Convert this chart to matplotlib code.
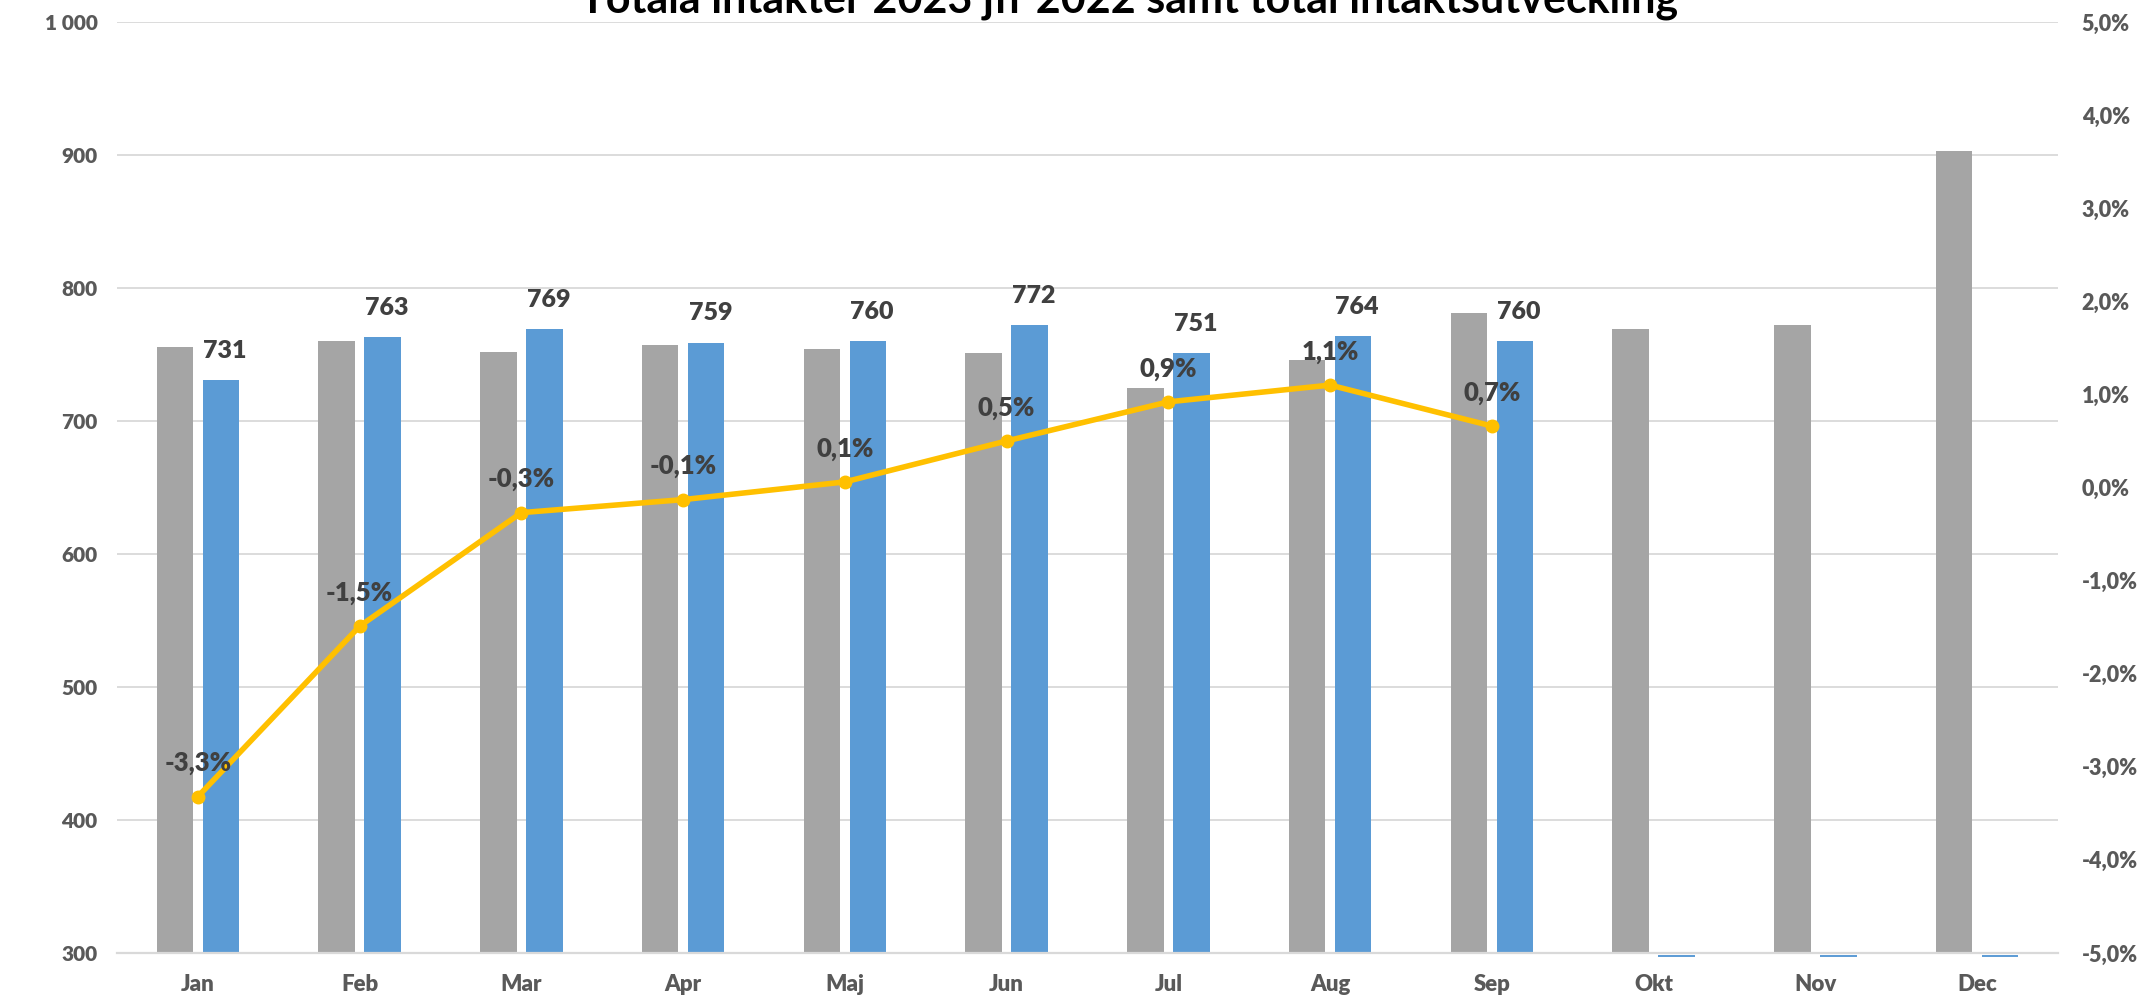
import matplotlib
matplotlib.use("Agg")
import matplotlib.pyplot as plt
from matplotlib import font_manager as fm
import numpy as np
from matplotlib.ticker import FuncFormatter, MultipleLocator

# ---- data ----
months = ["Jan", "Feb", "Mar", "Apr", "Maj", "Jun", "Jul", "Aug", "Sep", "Okt", "Nov", "Dec"]
income_2022 = [756, 760, 752, 757, 754, 751, 725, 746, 781, 769, 772, 903]
income_2023 = [731, 763, 769, 759, 760, 772, 751, 764, 760, np.nan, np.nan, np.nan]
growth_pct = [-3.32, -1.49, -0.27, -0.13, 0.06, 0.50, 0.92, 1.10, 0.66]
title = "Totala intäkter 2023 jfr 2022 samt total intäktsutveckling"

# pick a family that really has a bold face installed
def bold_family(prefs):
    for fam in prefs:
        for f in fm.fontManager.ttflist:
            w = f.weight if isinstance(f.weight, int) else 400
            if f.name == fam and (w >= 600 or str(f.weight) == "bold") and f.style == "normal":
                return fam
    return "DejaVu Sans"

FONT = bold_family(["Lato", "Open Sans", "Noto Sans", "Roboto", "Liberation Sans", "DejaVu Sans"])
WEIGHT = "heavy"

GRAY = "#A5A5A5"
BLUE = "#5B9BD5"
GOLD = "#FFC000"
GRID = "#D9D9D9"
TICK = "#595959"
LABEL = "#404040"

W, H = 2146, 1000
fig = plt.figure(figsize=(W / 100, H / 100), dpi=100)
left, right, top, bottom = 117, 2058, 22, 953
ax = fig.add_axes([left / W, 1 - bottom / H, (right - left) / W, (bottom - top) / H])

x = np.arange(len(months))
bw = 0.225
off = 0.142

ax.bar(x - off, income_2022, width=bw, color=GRAY, zorder=2)
ax.bar(x + off, income_2023, width=bw, color=BLUE, zorder=2)

ax.set_ylim(300, 1000)
ax.set_xlim(-0.5, len(months) - 0.5)
ax.yaxis.set_major_locator(MultipleLocator(100))
ax.yaxis.set_major_formatter(FuncFormatter(lambda v, p: f"{int(v):,}".replace(",", " ")))
ax.set_xticks(x)
ax.set_xticklabels(months)
ax.grid(axis="y", color=GRID, lw=1.3, zorder=0)
ax.set_axisbelow(True)
for s in ["top", "left", "right"]:
    ax.spines[s].set_visible(False)
ax.spines["bottom"].set_color(GRID)
ax.spines["bottom"].set_linewidth(1.6)
ax.tick_params(axis="y", length=0, colors=TICK, labelsize=15, pad=14)
ax.tick_params(axis="x", length=0, colors=TICK, labelsize=16, pad=15)
for lab in ax.get_xticklabels() + ax.get_yticklabels():
    lab.set_fontfamily(FONT)
    lab.set_fontweight(WEIGHT)

# missing 2023 months: thin blue stub at the baseline
base = ax.get_ylim()[0]
for xi, v in zip(x, income_2023):
    if np.isnan(v):
        ax.hlines(base - 2.2, xi + off - bw / 2, xi + off + bw / 2, color=BLUE,
                  lw=1.4, clip_on=False, zorder=3)

# value labels for 2023 bars
for xi, v in zip(x, income_2023):
    if not np.isnan(v):
        ax.annotate(f"{int(v)}", (xi + off, v), xytext=(3, 13), textcoords="offset points",
                    ha="center", va="bottom", fontsize=18, fontweight=WEIGHT,
                    fontfamily=FONT, color=LABEL, zorder=5)

# growth line on secondary axis
ax2 = ax.twinx()
ax2.set_ylim(-5, 5)
ax2.yaxis.set_major_locator(MultipleLocator(1))
ax2.yaxis.set_major_formatter(FuncFormatter(lambda v, p: f"{v:.1f}%".replace(".", ",")))
for s in ax2.spines.values():
    s.set_visible(False)
ax2.tick_params(axis="y", length=0, colors=TICK, labelsize=15.5, pad=17)
for lab in ax2.get_yticklabels():
    lab.set_fontfamily(FONT)
    lab.set_fontweight(WEIGHT)

xg = x[:len(growth_pct)]
ax2.plot(xg, growth_pct, color=GOLD, lw=4, marker="o", ms=9, zorder=4)
for xi, v in zip(xg, growth_pct):
    ax2.annotate(f"{v:.1f}%".replace(".", ","), (xi, v), xytext=(0, 24), textcoords="offset points",
                 ha="center", va="center", fontsize=18.5, fontweight=WEIGHT,
                 fontfamily=FONT, color=LABEL, zorder=5)

fig.text(1129 / W, 1 - 13 / H, title, ha="center", va="baseline", fontsize=31,
         fontweight="bold", fontfamily=FONT, color="black")

fig.savefig("out.png", dpi=100, facecolor="white")
